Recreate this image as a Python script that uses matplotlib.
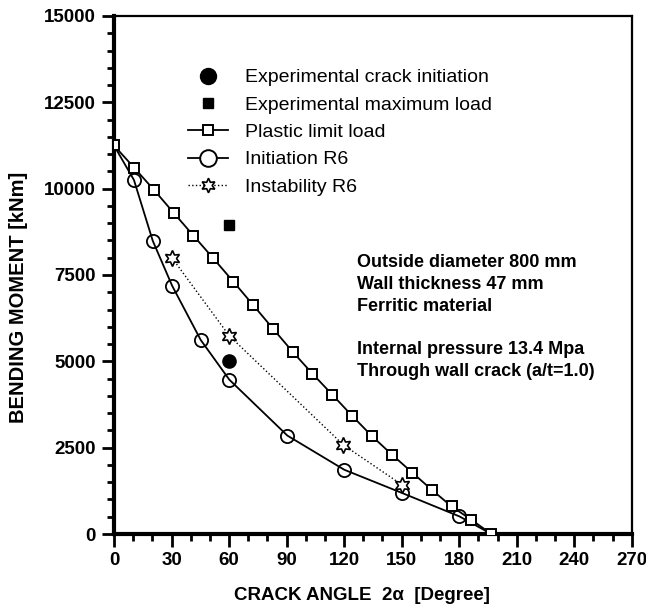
import matplotlib
matplotlib.use("Agg")
import matplotlib.pyplot as plt
from matplotlib.ticker import MultipleLocator

plt.rcParams["font.family"] = ["Liberation Sans", "DejaVu Sans"]

# Plastic limit load
plastic_x = [0, 10.6, 20.9, 31.1, 41.4, 51.8, 62.2, 72.7, 83.0, 93.1,
             103.5, 113.9, 124.2, 134.4, 144.9, 155.5, 165.7, 176.0, 186.4, 196.8]
plastic_y = [11250, 10600, 9960, 9300, 8640, 7980, 7310, 6620, 5940, 5280,
             4640, 4030, 3420, 2840, 2300, 1780, 1280, 800, 410, 0]

# Initiation R6 (curve starts and ends on the limit-load curve)
init_x = [10.4, 20.2, 30.3, 45.2, 60.1, 90.4, 120.1, 150.1, 180.1]
init_y = [10250, 8490, 7190, 5620, 4470, 2850, 1860, 1190, 510]
init_line_x = [0] + init_x + [196.8]
init_line_y = [11250] + init_y + [0]

# Instability R6
inst_x = [30.3, 60.1, 119.6, 150.0]
inst_y = [7990, 5740, 2580, 1430]

# Experimental points
exp_init_x, exp_init_y = [60.1], [5000]
exp_max_x, exp_max_y = [60.1], [8950]

legend_labels = ["Experimental crack initiation", "Experimental maximum load",
                 "Plastic limit load", "Initiation R6", "Instability R6"]
notes = ["Outside diameter 800 mm", "Wall thickness 47 mm", "Ferritic material", "",
         "Internal pressure 13.4 Mpa", "Through wall crack (a/t=1.0)"]

STAR = (6, 1, 0)

fig = plt.figure(figsize=(6.46, 6.08), dpi=100)
ax = fig.add_axes([0.1765, 0.1217, 0.8015, 0.852])

ax.plot(exp_init_x, exp_init_y, "o", color="black", ms=9.5, ls="none")
ax.plot(exp_max_x, exp_max_y, "s", color="black", ms=7, ls="none")
ax.plot(plastic_x, plastic_y, "-s", color="black", lw=1.3, ms=6.8,
        mfc="white", mew=1.4, zorder=3)
ax.plot(init_line_x, init_line_y, "-", color="black", lw=1.3, zorder=2)
ax.plot(init_x, init_y, "o", color="black", ms=9.5, mfc="none", mew=1.3, zorder=4)
ax.plot(inst_x, inst_y, ":", marker=STAR, color="black", lw=1.0,
        ms=11.5, mfc="white", mew=1.2, zorder=5)

# legend proxies (legend symbols are drawn a bit larger than the data marks)
handles = [
    plt.Line2D([], [], ls="none", marker="o", color="black", ms=11.5),
    plt.Line2D([], [], ls="none", marker="s", color="black", ms=7),
    plt.Line2D([], [], ls="-", marker="s", color="black", lw=1.3, ms=7, mfc="white", mew=1.4),
    plt.Line2D([], [], ls="-", marker="o", color="black", lw=1.3, ms=12, mfc="white", mew=1.4),
    plt.Line2D([], [], ls=":", marker=STAR, color="black", lw=1.0, ms=10.5, mfc="white", mew=1.2),
]
ax.legend(handles, legend_labels, loc="upper left", bbox_to_anchor=(0.143, 0.898),
          frameon=False, fontsize=14, handlelength=2.05, handletextpad=0.9,
          labelspacing=0.5, borderpad=0, borderaxespad=0, numpoints=1)

for i, t in enumerate(notes):
    ax.text(0.469, 0.5234 - i * 0.0419, t, transform=ax.transAxes, fontsize=13,
            fontweight="bold", va="center", ha="left")

ax.set_xlim(0, 270)
ax.set_ylim(0, 15000)
ax.xaxis.set_major_locator(MultipleLocator(30))
ax.xaxis.set_minor_locator(MultipleLocator(10))
ax.yaxis.set_major_locator(MultipleLocator(2500))
ax.yaxis.set_minor_locator(MultipleLocator(500))
ax.tick_params(which="both", direction="out", width=2, top=False, right=False)
ax.tick_params(which="major", length=9, labelsize=13.5, pad=4)
ax.tick_params(which="minor", length=5)
for lbl in ax.get_xticklabels() + ax.get_yticklabels():
    lbl.set_fontweight("bold")

ax.spines["left"].set_linewidth(3)
ax.spines["bottom"].set_linewidth(3)
ax.spines["top"].set_linewidth(1.6)
ax.spines["right"].set_linewidth(1.6)

fig.text(362 / 646, 1 - 596 / 608, "CRACK ANGLE  2\u03b1  [Degree]", ha="center",
         va="center", fontsize=13.5, fontweight="bold")
fig.text(19 / 646, 1 - 297 / 608, "BENDING MOMENT [kNm]", ha="center", va="center",
         rotation=90, fontsize=14.5, fontweight="bold")

fig.savefig("out.png", dpi=100)
